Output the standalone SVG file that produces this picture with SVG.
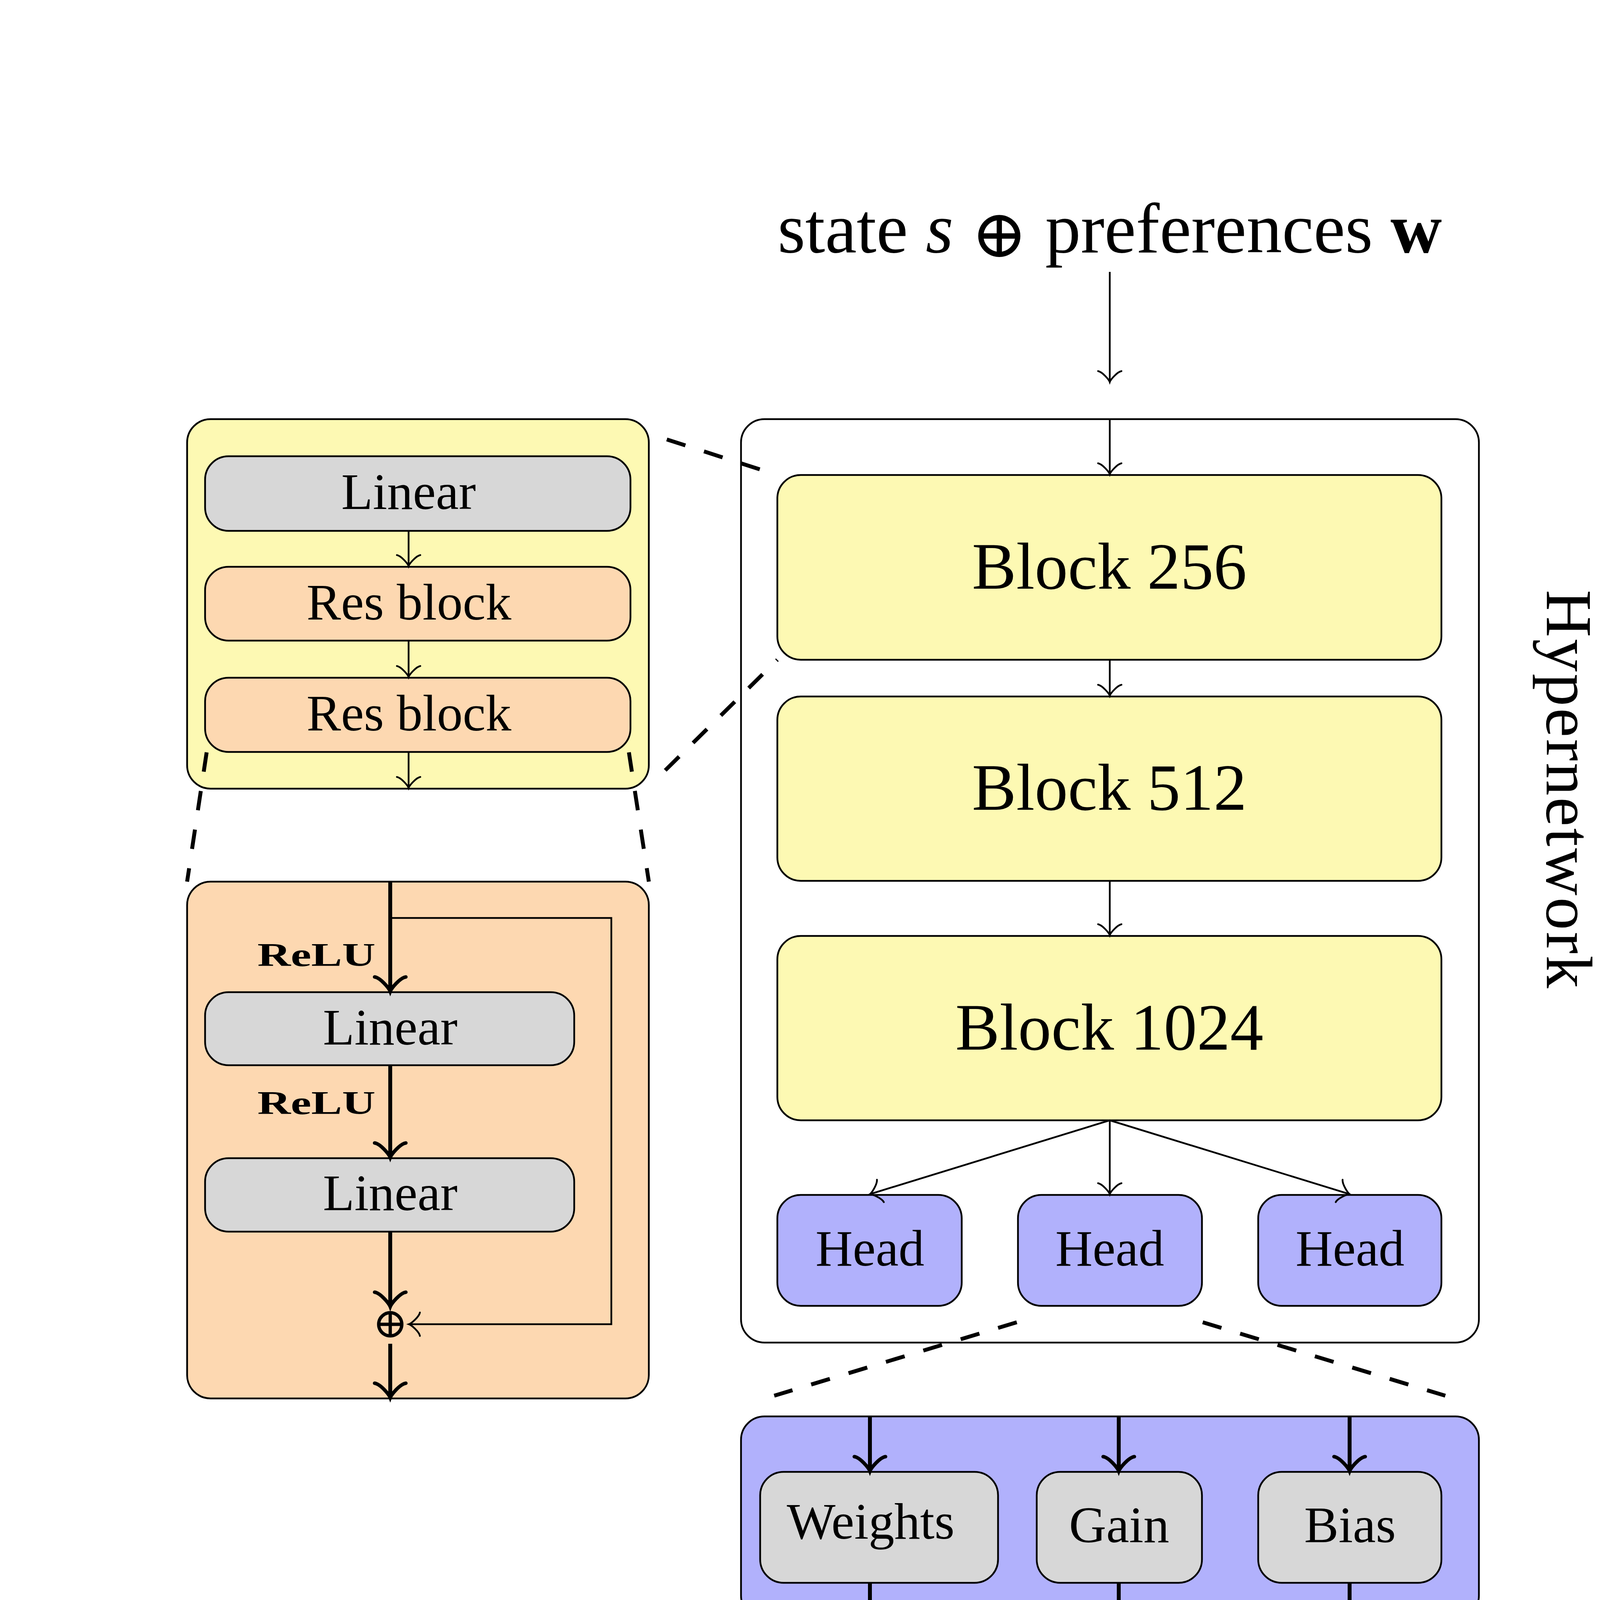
<svg xmlns="http://www.w3.org/2000/svg" width="4625" height="4625" viewBox="0 0 4625 4625">
<style>
.box{stroke:#000;stroke-width:4.5}
.yel{fill:#FDF9B3}
.ora{fill:#FDD8B1}
.blu{fill:#B1B1FC}
.gry{fill:#D7D7D7}
.wht{fill:#FFFFFF}
.lbl{font-family:"Liberation Serif","Times New Roman",serif;fill:#000}
.sm{font-size:132px}
.big{font-size:170px}
.thin{stroke:#000;stroke-width:4.5;fill:none;marker-end:url(#ah)}
.thick{stroke:#000;stroke-width:10;fill:none;marker-end:url(#ahk)}
.dash{stroke:#000;stroke-width:10;fill:none;stroke-dasharray:50 50}
</style>
<defs>
<marker id="ah" markerUnits="userSpaceOnUse" viewBox="-45 -45 55 90" markerWidth="55" markerHeight="90" refX="0" refY="0" orient="auto" overflow="visible">
<path d="M-28,-30 C-26,-19 -6,-2 0,0 C-6,2 -26,19 -28,30" fill="none" stroke="#000" stroke-width="4.5" stroke-linecap="round"/>
</marker>
<marker id="ahk" markerUnits="userSpaceOnUse" viewBox="-50 -50 60 100" markerWidth="60" markerHeight="100" refX="0" refY="0" orient="auto" overflow="visible">
<path d="M-37,-40 C-35,-25 -8,-3 0,0 C-8,3 -35,25 -37,40" fill="none" stroke="#000" stroke-width="9" stroke-linecap="round"/>
</marker>
</defs>
<rect width="4625" height="4625" fill="#FFFFFF"/>

<g id="title">
<text class="lbl" x="2841" y="646" font-size="182" text-anchor="middle">state <tspan font-style="italic">s</tspan> <tspan font-family="DejaVu Serif" font-size="172" dy="12">⊕</tspan><tspan dy="-12"> preferences </tspan><tspan font-weight="bold">w</tspan></text>
</g>

<g id="hypernetwork">
<rect class="box wht" x="1897" y="1073" width="1889" height="2364" rx="60"/>
<text class="lbl" transform="translate(3960,2020) rotate(90)" x="0" y="0" font-size="168" text-anchor="middle" textLength="1020" lengthAdjust="spacing">Hypernetwork</text>
</g>

<g id="block256">
<rect class="box yel" x="1990" y="1216" width="1700" height="473" rx="60"/>
<text class="lbl big" x="2840" y="1507" text-anchor="middle">Block 256</text>
</g>
<g id="block512">
<rect class="box yel" x="1990" y="1783" width="1700" height="472" rx="60"/>
<text class="lbl big" x="2840" y="2073" text-anchor="middle">Block 512</text>
</g>
<g id="block1024">
<rect class="box yel" x="1990" y="2396" width="1700" height="472" rx="60"/>
<text class="lbl big" x="2840" y="2687" text-anchor="middle">Block 1024</text>
</g>
<g id="head1">
<rect class="box blu" x="1990" y="3059" width="472" height="284" rx="60"/>
<text class="lbl sm" x="2227" y="3240" text-anchor="middle">Head</text>
</g>
<g id="head2">
<rect class="box blu" x="2606" y="3059" width="471" height="284" rx="60"/>
<text class="lbl sm" x="2841" y="3240" text-anchor="middle">Head</text>
</g>
<g id="head3">
<rect class="box blu" x="3221" y="3059" width="469" height="284" rx="60"/>
<text class="lbl sm" x="3456" y="3240" text-anchor="middle">Head</text>
</g>

<g id="zoom-block">
<rect class="box yel" x="479" y="1073" width="1182" height="946" rx="60"/>
</g>
<g id="linear-a">
<rect class="box gry" x="525" y="1168" width="1089" height="191" rx="60"/>
<text class="lbl sm" x="1046" y="1303" text-anchor="middle">Linear</text>
</g>
<g id="resblock-1">
<rect class="box ora" x="525" y="1451" width="1089" height="189" rx="60"/>
<text class="lbl sm" x="1047" y="1586" text-anchor="middle">Res block</text>
</g>
<g id="resblock-2">
<rect class="box ora" x="525" y="1735" width="1089" height="190" rx="60"/>
<text class="lbl sm" x="1047" y="1870" text-anchor="middle">Res block</text>
</g>

<g id="zoom-res">
<rect class="box ora" x="479" y="2257" width="1182" height="1323" rx="60"/>
</g>
<g id="linear-b">
<rect class="box gry" x="525" y="2540" width="945" height="187" rx="60"/>
<text class="lbl sm" x="999" y="2674" text-anchor="middle">Linear</text>
</g>
<g id="linear-c">
<rect class="box gry" x="525" y="2965" width="945" height="188" rx="60"/>
<text class="lbl sm" x="999" y="3098" text-anchor="middle">Linear</text>
</g>
<g id="relu-1">
<text class="lbl" x="961" y="2473" font-size="84" font-weight="bold" text-anchor="end" textLength="302" lengthAdjust="spacingAndGlyphs">ReLU</text>
</g>
<g id="relu-2">
<text class="lbl" x="961" y="2852" font-size="84" font-weight="bold" text-anchor="end" textLength="302" lengthAdjust="spacingAndGlyphs">ReLU</text>
</g>
<g id="sum">
<text x="999" y="3424" font-family="DejaVu Serif" font-size="108" text-anchor="middle" fill="#000">⊕</text>
</g>

<g id="zoom-head">
<rect class="box blu" x="1897" y="3626" width="1889" height="519" rx="60"/>
</g>
<g id="weights">
<rect class="box gry" x="1946" y="3768" width="609" height="284" rx="60"/>
<text class="lbl sm" x="2229" y="3939" text-anchor="middle">Weights</text>
</g>
<g id="gain">
<rect class="box gry" x="2654" y="3768" width="423" height="284" rx="60"/>
<text class="lbl sm" x="2865" y="3948" text-anchor="middle">Gain</text>
</g>
<g id="bias">
<rect class="box gry" x="3221" y="3768" width="469" height="284" rx="60"/>
<text class="lbl sm" x="3456" y="3948" text-anchor="middle">Bias</text>
</g>

<g id="connectors">
<line class="thin" x1="2841" y1="696" x2="2841" y2="978"/>
<line class="thin" x1="2841" y1="1073" x2="2841" y2="1214"/>
<line class="thin" x1="2841" y1="1689" x2="2841" y2="1781"/>
<line class="thin" x1="2841" y1="2255" x2="2841" y2="2394"/>
<line class="thin" x1="2841" y1="2868" x2="2227" y2="3057"/>
<line class="thin" x1="2841" y1="2868" x2="2841" y2="3057"/>
<line class="thin" x1="2841" y1="2868" x2="3455" y2="3057"/>

<line class="thin" x1="1046" y1="1359" x2="1046" y2="1449"/>
<line class="thin" x1="1046" y1="1640" x2="1046" y2="1733"/>
<line class="thin" x1="1046" y1="1925" x2="1046" y2="2017"/>

<line class="thick" x1="999" y1="2257" x2="999" y2="2538"/>
<line class="thick" x1="999" y1="2727" x2="999" y2="2963"/>
<line class="thick" x1="999" y1="3153" x2="999" y2="3345"/>
<line class="thick" x1="999" y1="3440" x2="999" y2="3578"/>
<polyline class="thin" points="999,2350 1565,2350 1565,3390 1047,3390"/>

<line class="thick" x1="2227" y1="3626" x2="2227" y2="3766"/>
<line class="thick" x1="2864" y1="3626" x2="2864" y2="3766"/>
<line class="thick" x1="3455" y1="3626" x2="3455" y2="3766"/>
<line class="thick" x1="2227" y1="4052" x2="2227" y2="4143"/>
<line class="thick" x1="2864" y1="4052" x2="2864" y2="4143"/>
<line class="thick" x1="3455" y1="4052" x2="3455" y2="4143"/>

<line class="dash" x1="1707" y1="1125" x2="1990" y2="1216"/>
<line class="dash" x1="1703" y1="1972" x2="1990" y2="1689"/>
<line class="dash" x1="529" y1="1926" x2="479" y2="2257"/>
<line class="dash" x1="1610" y1="1926" x2="1661" y2="2257"/>
<line class="dash" x1="2603" y1="3385" x2="1982" y2="3573"/>
<line class="dash" x1="3079" y1="3385" x2="3700" y2="3573"/>
</g>
</svg>
